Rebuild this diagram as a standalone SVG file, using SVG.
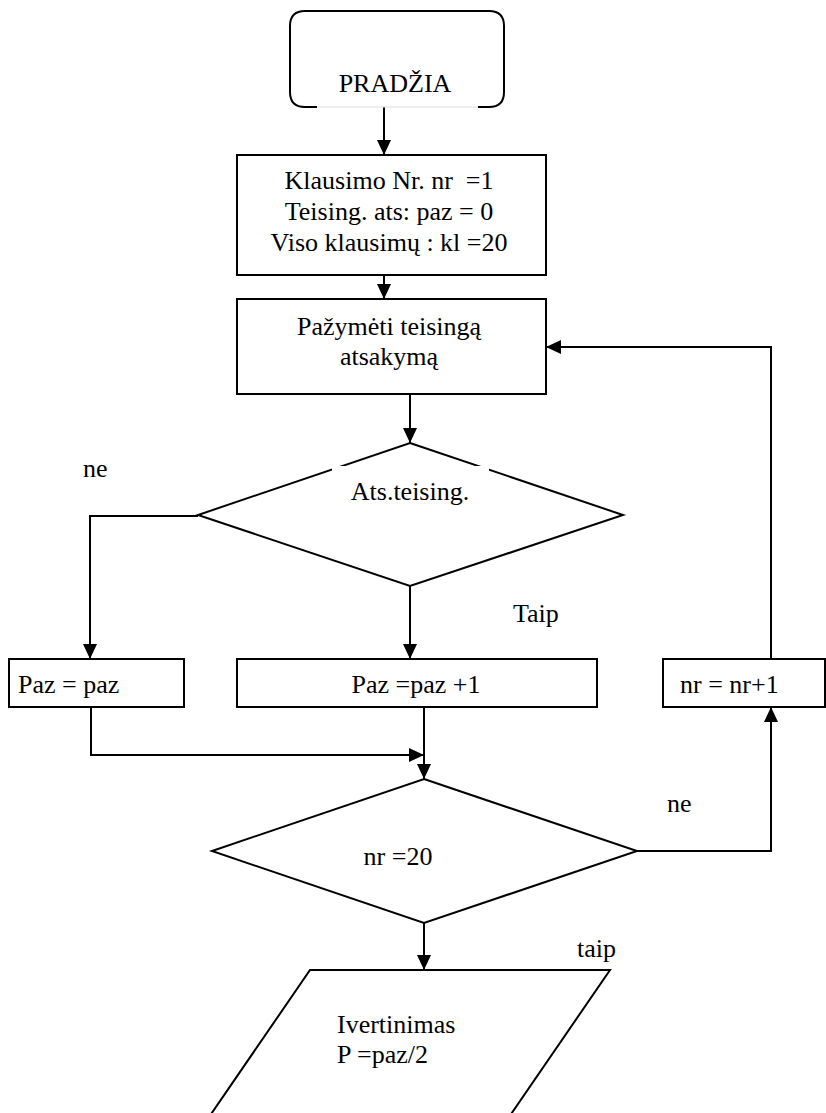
<svg xmlns="http://www.w3.org/2000/svg" width="826" height="1113" viewBox="0 0 826 1113">
  <style>
    .shape { fill: #ffffff; stroke: #000000; stroke-width: 2; }
    .line { fill: none; stroke: #000000; stroke-width: 2; marker-end: url(#arrow); }
    .plain { fill: none; stroke: #000000; stroke-width: 2; }
    text { font-family: "Liberation Serif", "Times New Roman", serif; font-size: 26px; fill: #000000; white-space: pre; }
    .c { text-anchor: middle; }
  </style>
  <defs>
    <marker id="arrow" markerWidth="15" markerHeight="14" refX="15" refY="7" orient="auto" markerUnits="userSpaceOnUse">
      <path d="M0,0 L15,7 L0,14 Z" fill="#000000"/>
    </marker>
  </defs>
  <rect width="826" height="1113" fill="#ffffff"/>

  <!-- connectors -->
  <g id="connectors">
    <line class="line" x1="384" y1="107" x2="384" y2="155"/>
    <line class="line" x1="384" y1="275" x2="384" y2="299"/>
    <line class="line" x1="410" y1="394" x2="410" y2="443"/>
    <polyline class="line" points="198,516 90,516 90,659"/>
    <line class="line" x1="410" y1="586" x2="410" y2="659"/>
    <polyline class="line" points="91,707 91,755 424,755"/>
    <line class="line" x1="424" y1="707" x2="424" y2="779"/>
    <polyline class="line" points="637,851 771,851 771,707"/>
    <polyline class="line" points="771,659 771,347 546,347"/>
    <line class="line" x1="424" y1="923" x2="424" y2="970"/>
  </g>

  <!-- start terminal, open at the bottom -->
  <g id="start">
    <path class="plain" d="M317,107 L305,107 Q290,107 290,92 L290,26 Q290,11 305,11 L489,11 Q504,11 504,26 L504,92 Q504,107 489,107 L478,107"/>
    <line x1="317" y1="107" x2="478" y2="107" stroke="#dddddd" stroke-width="1"/>
    <text x="395" y="92" class="c">PRADŽIA</text>
  </g>

  <g id="init">
    <rect class="shape" x="237" y="155" width="309" height="120"/>
    <text x="389" y="189" class="c">Klausimo Nr. nr  =1</text>
    <text x="389" y="220" class="c">Teising. ats: paz = 0</text>
    <text x="389" y="251" class="c">Viso klausimų : kl =20</text>
  </g>

  <g id="mark-answer">
    <rect class="shape" x="237" y="299" width="309" height="95"/>
    <text x="389" y="335" class="c">Pažymėti teisingą</text>
    <text x="389" y="365" class="c">atsakymą</text>
  </g>

  <g id="check-answer">
    <polygon class="shape" points="410,443 623,515 410,586 198,515"/>
    <rect x="332" y="466" width="157" height="50" fill="#ffffff"/>
    <text x="410" y="500" class="c">Ats.teising.</text>
  </g>

  <g id="keep-score">
    <rect class="shape" x="9" y="659" width="175" height="48"/>
    <text x="18" y="693">Paz = paz</text>
  </g>

  <g id="add-score">
    <rect class="shape" x="237" y="659" width="360" height="48"/>
    <text x="416" y="693" class="c">Paz =paz +1</text>
  </g>

  <g id="next-question">
    <rect class="shape" x="663" y="659" width="162" height="48"/>
    <text x="680" y="693">nr = nr+1</text>
  </g>

  <g id="check-last">
    <polygon class="shape" points="424,779 637,851 424,923 212,851"/>
    <text x="398" y="865" class="c">nr =20</text>
  </g>

  <g id="result">
    <polygon class="shape" points="310,970 610,970 507,1120 207,1120"/>
    <text x="337" y="1033">Ivertinimas</text>
    <text x="337" y="1063">P =paz/2</text>
  </g>

  <!-- branch labels -->
  <g id="labels">
    <text x="83" y="477">ne</text>
    <text x="513" y="622">Taip</text>
    <text x="667" y="812">ne</text>
    <text x="577" y="957">taip</text>
  </g>
</svg>
